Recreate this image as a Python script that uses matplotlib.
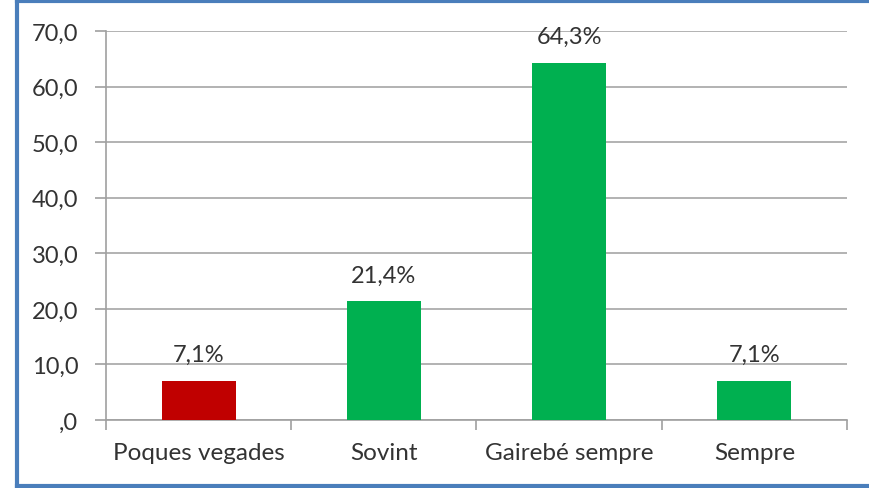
import matplotlib.pyplot as plt
from matplotlib.lines import Line2D

# dades
categories = ["Poques vegades", "Sovint", "Gairebé sempre", "Sempre"]
values = [7.1, 21.4, 64.3, 7.1]
labels = ["7,1%", "21,4%", "64,3%", "7,1%"]
colors = ["#C00000", "#00B050", "#00B050", "#00B050"]
yticks = [0, 10, 20, 30, 40, 50, 60, 70]
ytick_labels = [",0", "10,0", "20,0", "30,0", "40,0", "50,0", "60,0", "70,0"]

plt.rcParams['font.family'] = ['Lato', 'DejaVu Sans']
text_color = "#333333"

fig = plt.figure(figsize=(8.7, 4.89), dpi=100, facecolor='white')
ax = fig.add_axes([106 / 870, 1 - 421 / 489, 741 / 870, 389 / 489])

x = range(len(categories))
ax.bar(x, values, width=0.4, color=colors, zorder=3)
for i, v in enumerate(values):
    ax.text(i, v + 2.8, labels[i], ha='center', va='bottom', fontsize=17, color=text_color)

ax.set_xlim(-0.5, len(categories) - 0.5)
ax.set_ylim(0, 70)
ax.set_yticks(yticks)
ax.set_yticklabels(ytick_labels)
ax.set_xticks(x)
ax.set_xticklabels(categories)
ax.set_xticks([i + 0.5 for i in range(-1, len(categories))], minor=True)
ax.tick_params(axis='x', which='major', length=0, pad=16, labelsize=17.5, labelcolor=text_color)
ax.tick_params(axis='x', which='minor', length=7, width=1.2, color="#A0A0A0")
ax.tick_params(axis='y', length=8, width=1.2, color="#A0A0A0", pad=12, labelsize=17,
               labelcolor=text_color)

ax.grid(axis='y', color="#A6A6A6", linewidth=1.2, zorder=0)
for s in ['top', 'right']:
    ax.spines[s].set_visible(False)
for s in ['left', 'bottom']:
    ax.spines[s].set_color("#A0A0A0")
    ax.spines[s].set_linewidth(1.2)

# cadre bleu
blue = "#4A7EBB"
fig.add_artist(Line2D([17 / 870, 17 / 870], [0, 1], color=blue, linewidth=3, transform=fig.transFigure))
fig.add_artist(Line2D([17 / 870, 1], [1 - 2 / 489, 1 - 2 / 489], color=blue, linewidth=3, transform=fig.transFigure))
fig.add_artist(Line2D([17 / 870, 1], [2 / 489, 2 / 489], color=blue, linewidth=3, transform=fig.transFigure))

fig.savefig('out.png', dpi=100, facecolor='white')
